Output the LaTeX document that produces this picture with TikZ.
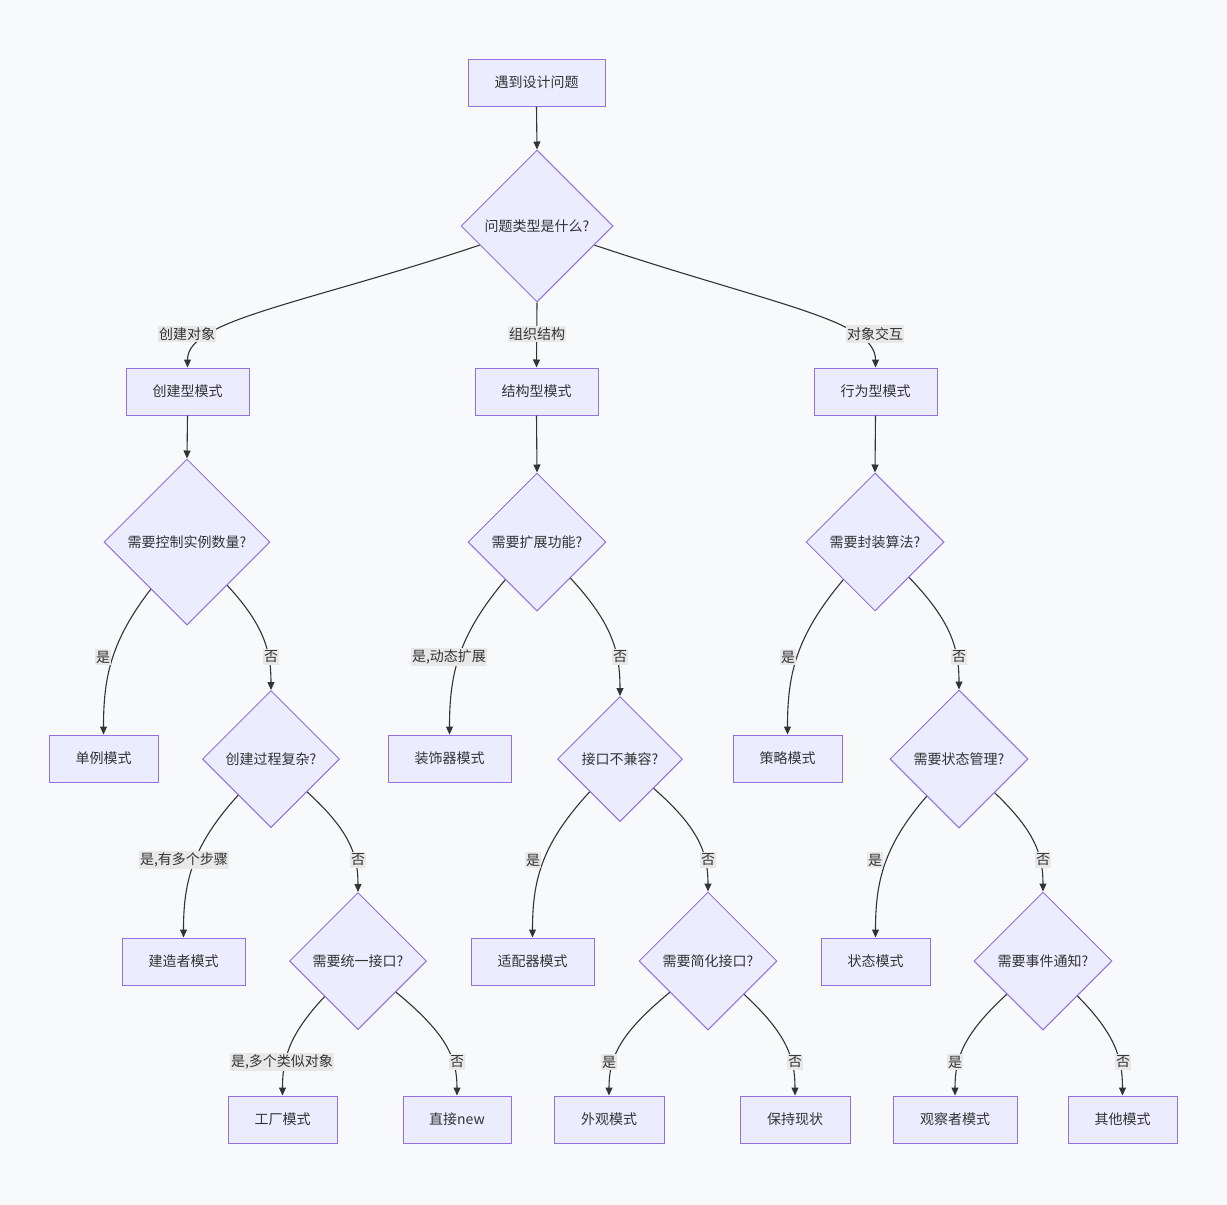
\documentclass[tikz,border=0pt]{standalone}
\usepackage{fontspec}
\setmainfont{Noto Sans CJK SC}
\usetikzlibrary{shapes.geometric,arrows.meta,calc}
\definecolor{bg}{HTML}{F8F9FB}
\definecolor{nodefill}{HTML}{ECECFF}
\definecolor{nodeline}{HTML}{9370DB}
\definecolor{edgecol}{HTML}{333333}
\definecolor{lblbg}{HTML}{E8E8E8}
\definecolor{txt}{HTML}{333333}
\begin{document}
\begin{tikzpicture}[x=1pt,y=-1pt,
 every node/.style={font=\fontsize{14}{16}\selectfont, text=txt},
 box/.style={draw=nodeline, fill=nodefill, line width=1pt, minimum height=47pt, inner sep=0pt},
 dec/.style={diamond, draw=nodeline, fill=nodefill, line width=1pt, aspect=1, inner sep=0pt},
 edge/.style={draw=edgecol, line width=1.1pt, -{Triangle[length=8pt,width=7pt]}},
 lbl/.style={fill=lblbg, inner xsep=1pt, inner ysep=2pt}]
\fill[bg] (0,0) rectangle (1227,1205);
\useasboundingbox (0,0) rectangle (1227,1205);

% nodes
\node[box, minimum width=137pt] (start) at (536.5,82.5) {遇到设计问题};
\node[dec, minimum width=152pt, minimum height=152pt] (d1) at (537,226) {问题类型是什么?};
\node[box, minimum width=123pt] (A) at (187.5,391.5) {创建型模式};
\node[box, minimum width=123pt] (B) at (536.5,391.5) {结构型模式};
\node[box, minimum width=123pt] (C) at (875.5,391.5) {行为型模式};
\node[dec, minimum width=166pt, minimum height=166pt] (d2) at (187,542) {需要控制实例数量?};
\node[dec, minimum width=138pt, minimum height=138pt] (d3) at (537,542) {需要扩展功能?};
\node[dec, minimum width=138pt, minimum height=138pt] (d4) at (875,542) {需要封装算法?};
\node[box, minimum width=109pt] (single) at (103.5,758.5) {单例模式};
\node[dec, minimum width=137pt, minimum height=137pt] (d5) at (271,759) {创建过程复杂?};
\node[box, minimum width=123pt] (deco) at (449.5,758.5) {装饰器模式};
\node[dec, minimum width=125pt, minimum height=125pt] (d6) at (620,759) {接口不兼容?};
\node[box, minimum width=109pt] (strat) at (787.5,758.5) {策略模式};
\node[dec, minimum width=138pt, minimum height=138pt] (d7) at (959,759) {需要状态管理?};
\node[box, minimum width=123pt] (builder) at (183.5,961.5) {建造者模式};
\node[dec, minimum width=137pt, minimum height=137pt] (d8) at (358,961) {需要统一接口?};
\node[box, minimum width=123pt] (adapter) at (532.5,961.5) {适配器模式};
\node[dec, minimum width=138pt, minimum height=138pt] (d9) at (708,961) {需要简化接口?};
\node[box, minimum width=109pt] (state) at (875.5,961.5) {状态模式};
\node[dec, minimum width=138pt, minimum height=138pt] (d10) at (1043,961) {需要事件通知?};
\node[box, minimum width=109pt] (factory) at (282.5,1119.5) {工厂模式};
\node[box, minimum width=108pt] (direct) at (457,1119.5) {直接new};
\node[box, minimum width=110pt] (facade) at (609,1119.5) {外观模式};
\node[box, minimum width=110pt] (keep) at (795,1119.5) {保持现状};
\node[box, minimum width=124pt] (observer) at (955,1119.5) {观察者模式};
\node[box, minimum width=109pt] (other) at (1122.5,1119.5) {其他模式};

% edges
\draw[edge] (start.south) -- (d1.north);
\draw[edge] (d1) .. controls (300,305) and (187.5,320) .. (A.north);
\draw[edge] (d1.south) -- (B.north);
\draw[edge] (d1) .. controls (774,305) and (875.5,320) .. (C.north);
\draw[edge] (A.south) -- (d2.north);
\draw[edge] (B.south) -- (d3.north);
\draw[edge] (C.south) -- (d4.north);

\draw[edge] (d2) .. controls (111,641) and (103.5,677) .. (single.north);
\draw[edge] (d2) .. controls (264,625) and (271,651) .. (d5.north);
\draw[edge] (d3) .. controls (458,636) and (449.5,674) .. (deco.north);
\draw[edge] (d3) .. controls (612,623) and (620,651) .. (d6.north);
\draw[edge] (d4) .. controls (796,636) and (787.5,674) .. (strat.north);
\draw[edge] (d4) .. controls (951,621) and (959,648) .. (d7.north);

\draw[edge] (d5) .. controls (192,846) and (183.5,882) .. (builder.north);
\draw[edge] (d5) .. controls (350,831) and (358,855) .. (d8.north);
\draw[edge] (d6) .. controls (541.5,844) and (532.5,880) .. (adapter.north);
\draw[edge] (d6) .. controls (699,828) and (708,853) .. (d9.north);
\draw[edge] (d7) .. controls (883.5,846) and (875.5,882) .. (state.north);
\draw[edge] (d7) .. controls (1035,831) and (1043,855) .. (d10.north);

\draw[edge] (d8) .. controls (289.5,1034) and (282.5,1058) .. (factory.north);
\draw[edge] (d8) .. controls (447,1034) and (457,1058) .. (direct.north);
\draw[edge] (d9) .. controls (619,1034) and (609,1058) .. (facade.north);
\draw[edge] (d9) .. controls (787,1034) and (795,1058) .. (keep.north);
\draw[edge] (d10) .. controls (963.5,1034) and (955,1058) .. (observer.north);
\draw[edge] (d10) .. controls (1115,1034) and (1122.5,1058) .. (other.north);

% labels
\node[lbl] (l1) at (187,334) {创建对象};
\node[lbl] (l2) at (537,334) {组织结构};
\node[lbl] (l3) at (875,334) {对象交互};
\node[lbl] (l4) at (103,657) {是};
\node[lbl] (l5) at (271,657) {否};
\node[lbl] (l6) at (449,657) {是,动态扩展};
\node[lbl] (l7) at (620,657) {否};
\node[lbl] (l8) at (788,657) {是};
\node[lbl] (l9) at (959,657) {否};
\node[lbl] (l10) at (184,860) {是,有多个步骤};
\node[lbl] (l11) at (358,860) {否};
\node[lbl] (l12) at (533,860) {是};
\node[lbl] (l13) at (708,860) {否};
\node[lbl] (l14) at (875,860) {是};
\node[lbl] (l15) at (1043,860) {否};
\node[lbl] (l16) at (282,1062) {是,多个类似对象};
\node[lbl] (l17) at (457,1062) {否};
\node[lbl] (l18) at (609,1062) {是};
\node[lbl] (l19) at (795,1062) {否};
\node[lbl] (l20) at (955,1062) {是};
\node[lbl] (l21) at (1123,1062) {否};
\end{tikzpicture}
\end{document}
